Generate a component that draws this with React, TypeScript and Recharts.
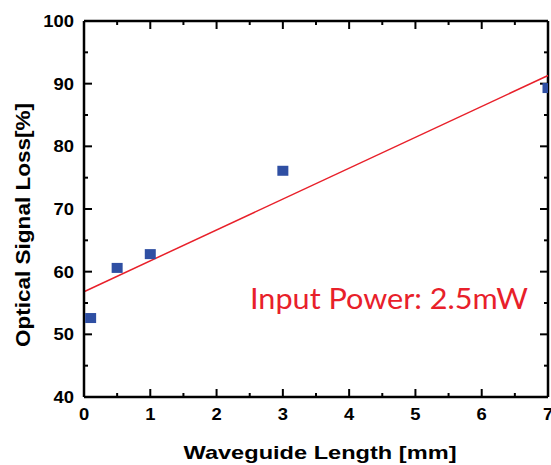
import React from 'react';
import { ComposedChart, Scatter, Line, XAxis, YAxis, ReferenceLine } from 'recharts';

const lengthsMm = [0.1, 0.5, 1, 3, 7];
const lossPct = [52.6, 60.6, 62.8, 76.1, 89.3];
const fitX = [0, 7];
const fitY = [56.8, 91.3];
const xTicks = [0, 0.5, 1, 1.5, 2, 2.5, 3, 3.5, 4, 4.5, 5, 5.5, 6, 6.5, 7];
const yTicks = [40, 45, 50, 55, 60, 65, 70, 75, 80, 85, 90, 95, 100];
const xTitle = 'Waveguide Length [mm]';
const yTitle = 'Optical Signal Loss[%]';
const annotation = 'Input Power: 2.5mW';

const points = lengthsMm.map((x, i) => ({ x, y: lossPct[i] }));
const fit = fitX.map((x, i) => ({ x, y: fitY[i] }));

const FONT = "Arial, 'Liberation Sans', sans-serif";
const X_MIN = 0;
const X_MAX = 7;
const Y_MIN = 40;
const Y_MAX = 100;
const PLOT_W = 464;
const PLOT_H = 376;
const PLOT_RIGHT = 548;
const X_PER_PX = (X_MAX - X_MIN) / PLOT_W;
const Y_PER_PX = (Y_MAX - Y_MIN) / PLOT_H;
const isMajorX = (v: number) => Math.abs(v - Math.round(v)) < 1e-6;
const isMajorY = (v: number) => v % 10 === 0;

const BottomTick = (props: any) => {
  const { x, y, payload } = props;
  const major = isMajorX(payload.value);
  if (!major) return <g />;
  return (
    <text
      transform={`translate(${x},${y + 23}) scale(1.15,1)`}
      textAnchor="middle"
      fontFamily={FONT}
      fontWeight="bold"
      fontSize={16}
      fill="#000"
    >
      {payload.value}
    </text>
  );
};

const LeftTick = (props: any) => {
  const { x, y, payload } = props;
  const major = isMajorY(payload.value);
  if (!major) return <g />;
  return (
    <text
      transform={`translate(${x - 10},${y + 6}) scale(1.15,1)`}
      textAnchor="end"
      fontFamily={FONT}
      fontWeight="bold"
      fontSize={16}
      fill="#000"
    >
      {payload.value}
    </text>
  );
};

const XTitle = () => (
  <g>
    <text
      x={320}
      y={459}
      textAnchor="middle"
      fontFamily={FONT}
      fontWeight="bold"
      fontSize={19}
      textLength={273}
      lengthAdjust="spacingAndGlyphs"
      fill="#000"
    >
      {xTitle}
    </text>
    <text
      x={389}
      y={309}
      textAnchor="middle"
      fontFamily="Lato, 'Open Sans', sans-serif"
      fontSize={29}
      textLength={278}
      lengthAdjust="spacingAndGlyphs"
      fill="#e8202a"
    >
      {annotation}
    </text>
  </g>
);

const YTitle = () => (
  <text
    x={0}
    y={0}
    transform="translate(30,225) rotate(-90)"
    textAnchor="middle"
    fontFamily={FONT}
    fontWeight="bold"
    fontSize={20}
    textLength={244}
    lengthAdjust="spacingAndGlyphs"
    fill="#000"
  >
    {yTitle}
  </text>
);

const Square = (props: any) => {
  const { cx, cy } = props;
  const left = cx - 5.5;
  const w = Math.max(0, Math.min(11, PLOT_RIGHT - left));
  return <rect x={left} y={cy - 5} width={w} height={10} fill="#2f4fa3" />;
};

const tickMarks: React.ReactNode[] = [];
xTicks.forEach((v) => {
  const len = (isMajorX(v) ? 8 : 4) * Y_PER_PX;
  tickMarks.push(
    <ReferenceLine key={`xb${v}`} xAxisId="b" yAxisId="l" ifOverflow="visible" stroke="#000" strokeWidth={2}
      segment={[{ x: v, y: Y_MIN }, { x: v, y: Y_MIN + len }]} />
  );
  tickMarks.push(
    <ReferenceLine key={`xt${v}`} xAxisId="b" yAxisId="l" ifOverflow="visible" stroke="#000" strokeWidth={2}
      segment={[{ x: v, y: Y_MAX }, { x: v, y: Y_MAX - len }]} />
  );
});
yTicks.forEach((v) => {
  const len = (isMajorY(v) ? 8 : 4) * X_PER_PX;
  tickMarks.push(
    <ReferenceLine key={`yl${v}`} xAxisId="b" yAxisId="l" ifOverflow="visible" stroke="#000" strokeWidth={2}
      segment={[{ x: X_MIN, y: v }, { x: X_MIN + len, y: v }]} />
  );
  tickMarks.push(
    <ReferenceLine key={`yr${v}`} xAxisId="b" yAxisId="l" ifOverflow="visible" stroke="#000" strokeWidth={2}
      segment={[{ x: X_MAX, y: v }, { x: X_MAX - len, y: v }]} />
  );
});

export default function App() {
  return (
    <div style={{ position: 'absolute', left: 0, top: 0, width: 551, height: 465, background: '#fff' }}>
      <ComposedChart width={551} height={465} margin={{ top: 21, right: 3, bottom: 0, left: 0 }}>
        <XAxis
          xAxisId="b"
          dataKey="x"
          type="number"
          domain={[X_MIN, X_MAX]}
          ticks={xTicks}
          height={68}
          tickSize={0}
          tickMargin={0}
          tickLine={false}
          tick={<BottomTick />}
          axisLine={{ stroke: '#000', strokeWidth: 2.5 }}
          interval={0}
          label={<XTitle />}
        />
        <YAxis
          yAxisId="l"
          type="number"
          domain={[Y_MIN, Y_MAX]}
          ticks={yTicks}
          width={84}
          tickSize={0}
          tickMargin={0}
          tickLine={false}
          tick={<LeftTick />}
          axisLine={{ stroke: '#000', strokeWidth: 2.5 }}
          interval={0}
          label={<YTitle />}
        />
        <ReferenceLine xAxisId="b" yAxisId="l" y={Y_MAX} stroke="#000" strokeWidth={2.5} ifOverflow="visible" />
        <ReferenceLine xAxisId="b" yAxisId="l" x={X_MAX} stroke="#000" strokeWidth={2.5} ifOverflow="visible" />
        {tickMarks}
        <Line
          xAxisId="b"
          yAxisId="l"
          data={fit}
          dataKey="y"
          type="linear"
          stroke="#e8202a"
          strokeWidth={1.5}
          dot={false}
          isAnimationActive={false}
        />
        <Scatter
          xAxisId="b"
          yAxisId="l"
          data={points}
          dataKey="y"
          shape={<Square />}
          isAnimationActive={false}
        />
      </ComposedChart>
    </div>
  );
}
